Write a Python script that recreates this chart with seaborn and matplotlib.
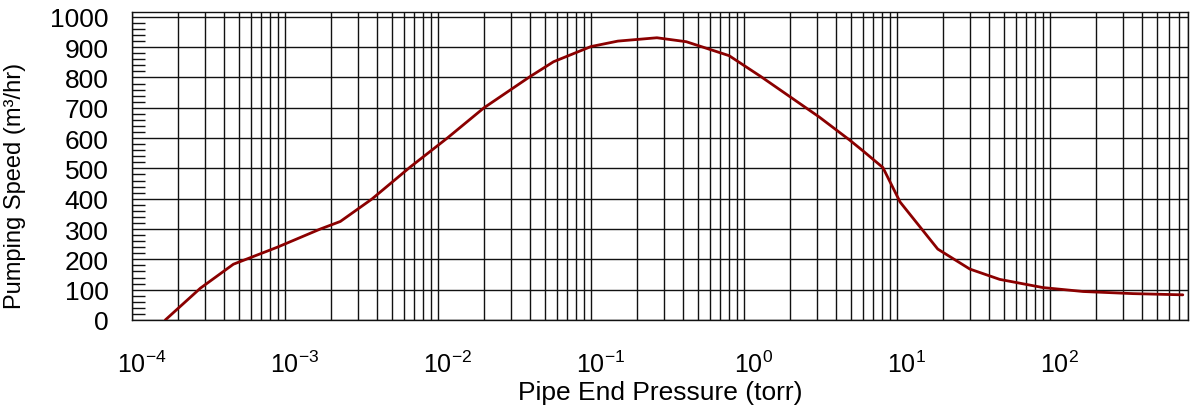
import numpy as np
import pandas as pd
import matplotlib
matplotlib.use("Agg")
import matplotlib.pyplot as plt
import matplotlib.ticker as mticker
import matplotlib.transforms as mtransforms
import seaborn as sns

# values
pressure = [1.65e-4, 2.8e-4, 4.6e-4, 8.9e-4, 1.7e-3, 2.3e-3, 3.7e-3, 6.6e-3,
            1.15e-2, 2.0e-2, 4.0e-2, 5.7e-2, 0.1, 0.15, 0.27, 0.42, 0.8, 1.3,
            3.1, 4.9, 6.0, 8.1, 10.5, 18.5, 30, 47, 90, 165, 350, 740]
speed = [0, 105, 184, 240, 300, 325, 399, 505,
         600, 700, 803, 852, 902, 920, 931, 918, 872, 802,
         670, 594, 558, 503, 389, 234, 168, 134, 107, 94, 87, 83]
decades = [1e-4, 1e-3, 1e-2, 1e-1, 1e0, 1e1, 1e2]
speed_ticks = list(range(0, 1001, 100))

df = pd.DataFrame({"Pressure": pressure, "Speed": speed})

sns.set_style("white")
plt.rcParams["font.family"] = ["Liberation Sans", "DejaVu Sans"]
plt.rcParams["mathtext.fontset"] = "custom"
plt.rcParams["mathtext.rm"] = "Liberation Sans"
plt.rcParams["axes.unicode_minus"] = False
plt.rcParams["text.color"] = "black"
plt.rcParams["axes.labelcolor"] = "black"
plt.rcParams["xtick.color"] = "black"
plt.rcParams["ytick.color"] = "black"

fig = plt.figure(figsize=(11.92, 4.10), dpi=100)
ax = fig.add_axes([132 / 1192, 89 / 410, 1056 / 1192, 308 / 410])

sns.lineplot(data=df, x="Pressure", y="Speed", ax=ax, color="#8b0000",
             linewidth=2.0, zorder=5)

ax.set_xscale("log")
ax.set_xlim(1e-4, 800)
ax.set_ylim(0, 1016)

# grid: every minor decade line vertically, every 100 horizontally
grid_kw = dict(color="#111111", linewidth=1.0, zorder=1)
for d in decades:
    for m in range(1, 10):
        v = d * m
        if 1e-4 <= v <= 800:
            ax.axvline(v, **grid_kw)
for s in speed_ticks:
    ax.axhline(s, **grid_kw)

ax.set_xticks(decades)
ax.xaxis.set_major_formatter(mticker.LogFormatterSciNotation())
ax.xaxis.set_minor_locator(mticker.NullLocator())
ax.set_yticks(speed_ticks)
ax.yaxis.set_minor_locator(mticker.MultipleLocator(20))

ax.tick_params(axis="x", which="major", direction="out", length=17,
               width=1.0, color="#111111", labelsize=18, pad=5,
               labelcolor="black")
ax.tick_params(axis="y", which="major", direction="out", length=10,
               width=1.0, color="#111111", labelsize=19, pad=7,
               labelcolor="black")
ax.tick_params(axis="y", which="minor", direction="in", length=9,
               width=1.0, color="#111111", left=True)

for sp in ax.spines.values():
    sp.set_color("#111111")
    sp.set_linewidth(1.0)

ax.set_xlabel("Pipe End Pressure (torr)", fontsize=19, color="black")
ax.set_ylabel("Pumping Speed (m³/hr)", fontsize=17, color="black")
ax.xaxis.set_label_coords(0.5, -0.196)
ax.yaxis.set_label_coords(-0.100, 0.44)

# shift decade labels so the base "10" sits under the tick
offset = mtransforms.ScaledTranslation(10 / 100, 0, fig.dpi_scale_trans)
for lab in ax.get_xticklabels():
    lab.set_transform(lab.get_transform() + offset)

fig.savefig("out.png", dpi=100)
